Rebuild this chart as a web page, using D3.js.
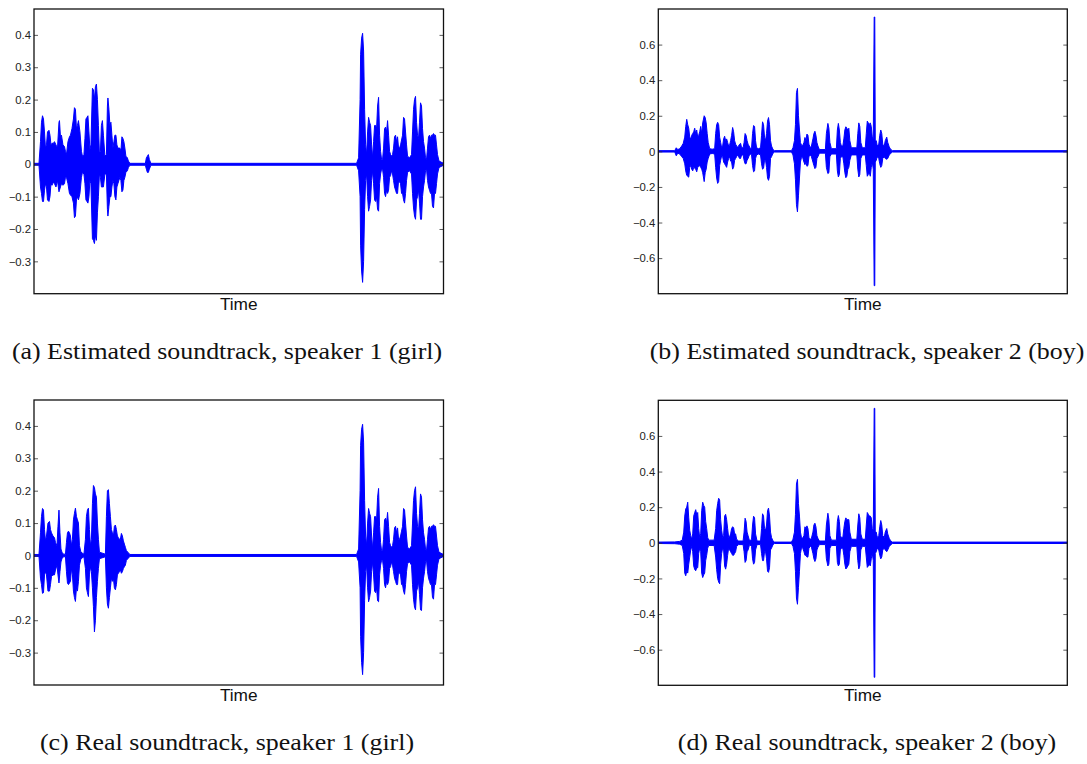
<!DOCTYPE html>
<html>
<head>
<meta charset="utf-8">
<script src="https://cdn.jsdelivr.net/npm/d3@7"></script>
<style>
  html, body { margin: 0; padding: 0; background: #fff; }
  svg { display: block; }
</style>
</head>
<body>
<svg id="fig" width="1087" height="764"></svg>
<script>
// Waveform envelopes: [time frame, upper amplitude, lower amplitude]
const girlEstimated = [
  [0,0.003,-0.003],[5,0.003,-0.003],[6.5,0.07,-0.07],[7.5,0.13,-0.09],[8.5,0.15,-0.115],[9.5,0.14,-0.115],[10.5,0.1,-0.08],[11.5,0.05,-0.06],[12.5,0.06,-0.07],[13.5,0.1,-0.11],[15,0.105,-0.115],[16,0.09,-0.1],[17,0.06,-0.06],[18,0.065,-0.065],[19.5,0.065,-0.055],[20.5,0.07,-0.06],[22,0.06,-0.07],[23.5,0.05,-0.05],[25,0.13,-0.085],[25.5,0.135,-0.08],[26.5,0.085,-0.07],[27.5,0.09,-0.06],[29,0.06,-0.065],[30.5,0.055,-0.06],[31.5,0.04,-0.04],[32.5,0.03,-0.04],[34,0.07,-0.06],[35.5,0.085,-0.09],[36.5,0.09,-0.095],[38,0.11,-0.1],[39.5,0.14,-0.12],[40.5,0.175,-0.165],[41.5,0.17,-0.16],[42.5,0.11,-0.11],[43.5,0.12,-0.1],[44.5,0.135,-0.11],[46,0.1,-0.09],[47.5,0.04,-0.04],[48.5,0.025,-0.025],[50,0.03,-0.03],[51,0.08,-0.06],[52,0.14,-0.11],[53,0.145,-0.115],[54,0.15,-0.12],[55,0.1,-0.1],[56,0.045,-0.05],[57,0.06,-0.06],[58.5,0.235,-0.23],[59.5,0.23,-0.235],[60.5,0.2,-0.245],[61.5,0.24,-0.22],[62.5,0.248,-0.235],[63.5,0.2,-0.15],[64.5,0.12,-0.1],[65.5,0.035,-0.03],[66.5,0.04,-0.04],[67.5,0.12,-0.07],[68.5,0.135,-0.07],[69.5,0.09,-0.07],[71,0.025,-0.03],[72.5,0.03,-0.03],[73.5,0.18,-0.14],[74,0.205,-0.16],[75,0.17,-0.13],[76,0.12,-0.1],[77,0.13,-0.1],[78,0.09,-0.07],[79,0.05,-0.05],[80,0.07,-0.06],[81,0.09,-0.1],[82,0.09,-0.11],[83,0.06,-0.07],[84,0.05,-0.06],[85,0.05,-0.05],[86,0.05,-0.04],[87,0.04,-0.05],[88,0.085,-0.085],[89,0.08,-0.08],[90,0.07,-0.05],[91,0.05,-0.04],[92,0.025,-0.025],[93.5,0.02,-0.02],[94.5,0.01,-0.01],[96,0.003,-0.003],
  [111.5,0.003,-0.003],[112.5,0.02,-0.015],[113.5,0.025,-0.025],[114.5,0.03,-0.025],[115.5,0.015,-0.015],[117,0.003,-0.003],
  [323,0.003,-0.003],[325,0.02,-0.02],[326.5,0.2,-0.1],[327,0.34,-0.25],[328,0.39,-0.33],[329,0.405,-0.365],[330,0.35,-0.3],[331,0.17,-0.14],[332,0.06,-0.05],[333,0.03,-0.03],[334,0.1,-0.1],[335,0.145,-0.145],[336,0.13,-0.13],[337,0.12,-0.11],[338,0.06,-0.05],[339,0.02,-0.02],[340,0.07,-0.06],[341,0.12,-0.11],[342,0.12,-0.115],[343,0.11,-0.1],[344,0.18,-0.14],[345,0.207,-0.145],[346,0.09,-0.06],[347,0.04,-0.03],[348,0.015,-0.015],[349,0.015,-0.015],[350,0.05,-0.04],[351,0.11,-0.09],[352,0.115,-0.1],[353,0.1,-0.08],[354,0.135,-0.09],[355,0.09,-0.08],[356,0.04,-0.04],[357,0.03,-0.035],[358,0.025,-0.02],[359,0.03,-0.03],[360,0.05,-0.05],[361,0.085,-0.07],[362,0.09,-0.08],[363,0.07,-0.09],[364,0.085,-0.09],[365,0.05,-0.05],[366,0.05,-0.055],[367,0.06,-0.06],[368,0.075,-0.09],[369,0.09,-0.09],[370,0.145,-0.11],[371,0.14,-0.12],[372,0.1,-0.09],[373,0.06,-0.05],[374,0.025,-0.025],[376,0.02,-0.02],[378,0.03,-0.03],[379,0.1,-0.09],[380,0.17,-0.135],[381,0.2,-0.16],[382,0.21,-0.17],[383,0.13,-0.11],[384,0.09,-0.1],[385,0.08,-0.08],[386,0.13,-0.12],[387,0.19,-0.17],[388,0.18,-0.17],[389,0.11,-0.1],[390,0.07,-0.07],[391,0.05,-0.05],[392,0.02,-0.02],[393,0.015,-0.015],[394,0.05,-0.05],[395,0.085,-0.07],[396,0.09,-0.08],[397,0.08,-0.09],[398,0.09,-0.09],[399,0.09,-0.13],[400,0.095,-0.135],[401,0.09,-0.09],[402,0.09,-0.09],[403,0.06,-0.06],[404,0.03,-0.03],[405.5,0.01,-0.01],[410,0.003,-0.003]
];

const boyEstimated = [
  [0,0.004,-0.004],[16.5,0.004,-0.004],[18,0.02,-0.025],[19.5,0.01,-0.01],[21.5,0.015,-0.015],[23.5,0.03,-0.03],[25,0.045,-0.04],[26.5,0.08,-0.07],[27.5,0.14,-0.11],[28.5,0.18,-0.135],[29.5,0.15,-0.14],[30.5,0.13,-0.145],[31.5,0.08,-0.09],[32.5,0.07,-0.08],[33.5,0.09,-0.1],[34.5,0.1,-0.11],[35.5,0.11,-0.09],[36.5,0.13,-0.095],[37.5,0.1,-0.1],[38.5,0.12,-0.115],[39.5,0.08,-0.09],[40.5,0.09,-0.085],[41.5,0.11,-0.08],[42.5,0.14,-0.09],[43.5,0.1,-0.1],[44.5,0.16,-0.12],[46,0.2,-0.17],[47,0.19,-0.12],[48,0.16,-0.1],[49,0.1,-0.06],[50,0.05,-0.04],[51.5,0.015,-0.015],[54,0.012,-0.012],[56.5,0.015,-0.015],[57.5,0.1,-0.09],[58.5,0.15,-0.15],[59.5,0.163,-0.18],[60.5,0.15,-0.17],[61.5,0.08,-0.08],[62.5,0.05,-0.05],[63.5,0.02,-0.025],[64.5,0.03,-0.03],[65.5,0.07,-0.06],[66.5,0.085,-0.07],[67.5,0.06,-0.08],[68.5,0.07,-0.09],[69.5,0.05,-0.06],[70.5,0.03,-0.04],[71.5,0.035,-0.03],[72.5,0.06,-0.055],[73.5,0.09,-0.06],[74.5,0.134,-0.1],[75.5,0.11,-0.09],[76.5,0.06,-0.05],[77.5,0.04,-0.04],[78.5,0.03,-0.03],[79.5,0.025,-0.02],[80.5,0.03,-0.03],[81.5,0.04,-0.04],[82.5,0.045,-0.04],[83.5,0.02,-0.02],[85,0.02,-0.02],[86,0.05,-0.05],[87,0.1,-0.07],[88,0.09,-0.07],[89,0.06,-0.05],[90,0.04,-0.04],[91,0.03,-0.025],[92.5,0.015,-0.015],[93.5,0.02,-0.02],[94.5,0.1,-0.08],[95.5,0.145,-0.115],[96.5,0.14,-0.11],[97.5,0.06,-0.04],[98.5,0.02,-0.02],[100.5,0.015,-0.015],[102.5,0.02,-0.02],[103.5,0.09,-0.07],[104.5,0.166,-0.1],[105.5,0.15,-0.095],[106.5,0.08,-0.05],[107.5,0.06,-0.05],[108.5,0.1,-0.09],[109.5,0.17,-0.15],[110.5,0.19,-0.163],[111.5,0.15,-0.14],[112.5,0.06,-0.04],[113.5,0.03,-0.03],[115,0.01,-0.01],[116.5,0.004,-0.004],
  [133.5,0.004,-0.004],[135,0.02,-0.02],[136.5,0.06,-0.07],[137.5,0.15,-0.16],[138.5,0.33,-0.3],[139.5,0.354,-0.34],[140.5,0.2,-0.25],[141.5,0.12,-0.15],[142.5,0.05,-0.06],[143.5,0.035,-0.035],[144.5,0.03,-0.03],[146,0.05,-0.06],[147,0.078,-0.075],[148,0.06,-0.06],[149,0.097,-0.084],[150,0.09,-0.08],[151,0.04,-0.03],[152.5,0.02,-0.02],[153.5,0.03,-0.03],[155,0.07,-0.06],[156,0.1,-0.08],[157,0.113,-0.097],[158,0.09,-0.09],[159,0.05,-0.04],[160,0.03,-0.03],[161.5,0.01,-0.01],[167.5,0.01,-0.01],[168.5,0.1,-0.09],[170,0.157,-0.125],[171,0.13,-0.12],[172,0.05,-0.03],[173.5,0.015,-0.015],[178.5,0.015,-0.015],[179.5,0.12,-0.11],[180.5,0.157,-0.144],[181.5,0.12,-0.13],[182.5,0.05,-0.04],[183.5,0.03,-0.03],[185,0.03,-0.03],[186,0.07,-0.07],[187,0.12,-0.12],[188,0.138,-0.148],[189,0.13,-0.14],[190,0.12,-0.1],[191,0.13,-0.09],[192,0.06,-0.05],[193.5,0.02,-0.02],[199,0.02,-0.02],[200,0.1,-0.1],[201,0.16,-0.144],[202,0.14,-0.13],[203,0.05,-0.04],[204.5,0.02,-0.02],[207.5,0.02,-0.02],[208.5,0.1,-0.08],[209.5,0.17,-0.14],[210.5,0.16,-0.13],[211.5,0.15,-0.12],[212.5,0.16,-0.14],[213.5,0.14,-0.09],[214.5,0.08,-0.06],[215.5,0.07,-0.1],[216.4,0.755,-0.755],[217,0.755,-0.755],[217.5,0.06,-0.06],[218.5,0.06,-0.05],[219.5,0.03,-0.03],[221,0.04,-0.04],[222,0.09,-0.07],[223,0.12,-0.09],[224,0.1,-0.08],[225,0.04,-0.04],[226.5,0.03,-0.03],[227.5,0.06,-0.04],[229,0.08,-0.045],[230,0.05,-0.04],[231.5,0.025,-0.02],[232.5,0.015,-0.015],[234.5,0.004,-0.004],[410,0.004,-0.004]
];

const girlReal = [
  [0,0.003,-0.003],[5,0.003,-0.003],[6.5,0.07,-0.07],[7.5,0.12,-0.09],[8.5,0.145,-0.117],[9.5,0.14,-0.115],[10.5,0.08,-0.06],[11.5,0.045,-0.05],[12.5,0.06,-0.06],[14,0.1,-0.11],[15.5,0.105,-0.11],[16.5,0.08,-0.09],[17.5,0.07,-0.065],[19,0.06,-0.06],[20.5,0.055,-0.06],[21.5,0.04,-0.045],[23,0.03,-0.03],[24,0.09,-0.06],[25,0.14,-0.085],[26,0.07,-0.05],[27,0.02,-0.02],[28,0.01,-0.01],[29.5,0.004,-0.004],[31.5,0.004,-0.004],[32.5,0.04,-0.05],[33.5,0.07,-0.085],[34.5,0.075,-0.09],[35.5,0.07,-0.085],[36.5,0.06,-0.08],[37.5,0.03,-0.04],[38.5,0.05,-0.06],[39.5,0.11,-0.11],[40.5,0.13,-0.13],[41.5,0.146,-0.142],[42.5,0.12,-0.1],[43.5,0.11,-0.11],[44.5,0.1,-0.08],[45.5,0.03,-0.03],[47,0.01,-0.01],[50,0.004,-0.004],[51.5,0.05,-0.04],[52.5,0.12,-0.1],[53.5,0.14,-0.115],[54.5,0.146,-0.127],[55.5,0.08,-0.06],[56.5,0.03,-0.035],[57.5,0.05,-0.05],[58.5,0.16,-0.1],[59.5,0.216,-0.158],[60.5,0.21,-0.236],[61.5,0.19,-0.2],[62.5,0.18,-0.13],[63.5,0.1,-0.08],[64.5,0.05,-0.04],[65.5,0.01,-0.01],[71.5,0.004,-0.004],[72.5,0.12,-0.1],[73.5,0.2,-0.15],[74.5,0.203,-0.163],[75.5,0.16,-0.13],[76.5,0.12,-0.1],[77.5,0.08,-0.07],[78.5,0.07,-0.08],[79.5,0.06,-0.07],[80.5,0.09,-0.1],[81.5,0.094,-0.106],[82.5,0.08,-0.09],[83.5,0.06,-0.06],[84.5,0.055,-0.055],[85.5,0.05,-0.05],[86.5,0.05,-0.045],[87.5,0.068,-0.055],[88.5,0.06,-0.05],[89.5,0.045,-0.04],[90.5,0.035,-0.035],[91.5,0.025,-0.03],[92.5,0.015,-0.015],[94,0.01,-0.01],[96,0.003,-0.003],
  [323,0.003,-0.003],[325,0.02,-0.02],[326.5,0.2,-0.1],[327,0.34,-0.25],[328,0.39,-0.33],[329,0.405,-0.368],[330,0.35,-0.3],[331,0.17,-0.14],[332,0.06,-0.05],[333,0.03,-0.03],[334,0.1,-0.1],[335,0.145,-0.143],[336,0.13,-0.13],[337,0.12,-0.11],[338,0.06,-0.05],[339,0.02,-0.02],[340,0.07,-0.06],[341,0.12,-0.11],[342,0.12,-0.115],[343,0.11,-0.1],[344,0.18,-0.14],[345,0.207,-0.143],[346,0.09,-0.06],[347,0.04,-0.03],[348,0.015,-0.015],[349,0.015,-0.015],[350,0.05,-0.04],[351,0.11,-0.09],[352,0.115,-0.1],[353,0.1,-0.08],[354,0.133,-0.09],[355,0.09,-0.08],[356,0.04,-0.04],[357,0.03,-0.035],[358,0.025,-0.02],[359,0.03,-0.03],[360,0.05,-0.05],[361,0.085,-0.07],[362,0.09,-0.08],[363,0.07,-0.09],[364,0.085,-0.09],[365,0.05,-0.05],[366,0.05,-0.055],[367,0.06,-0.06],[368,0.075,-0.09],[369,0.09,-0.09],[370,0.145,-0.11],[371,0.14,-0.12],[372,0.1,-0.09],[373,0.06,-0.05],[374,0.025,-0.025],[376,0.02,-0.02],[378,0.03,-0.03],[379,0.1,-0.09],[380,0.17,-0.135],[381,0.2,-0.16],[382,0.212,-0.168],[383,0.13,-0.11],[384,0.09,-0.1],[385,0.08,-0.08],[386,0.13,-0.12],[387,0.19,-0.168],[388,0.18,-0.17],[389,0.11,-0.1],[390,0.07,-0.07],[391,0.05,-0.05],[392,0.02,-0.02],[393,0.015,-0.015],[394,0.05,-0.05],[395,0.085,-0.07],[396,0.09,-0.08],[397,0.08,-0.09],[398,0.09,-0.09],[399,0.09,-0.13],[400,0.095,-0.135],[401,0.09,-0.09],[402,0.09,-0.09],[403,0.06,-0.06],[404,0.03,-0.03],[405.5,0.01,-0.01],[410,0.003,-0.003]
];

const boyReal = [
  [0,0.004,-0.004],[16.5,0.005,-0.005],[21.5,0.008,-0.008],[24,0.015,-0.015],[25.5,0.06,-0.06],[26.5,0.15,-0.17],[27.5,0.19,-0.185],[28.5,0.2,-0.16],[29.5,0.228,-0.17],[30.5,0.14,-0.12],[31.5,0.07,-0.08],[32.5,0.04,-0.04],[33.5,0.02,-0.02],[34.5,0.05,-0.05],[35.5,0.15,-0.13],[36.5,0.17,-0.15],[37.5,0.186,-0.157],[38.5,0.16,-0.14],[39.5,0.17,-0.14],[40.5,0.08,-0.06],[41.5,0.03,-0.03],[42.5,0.05,-0.05],[43.5,0.18,-0.17],[44.5,0.228,-0.195],[45.5,0.21,-0.18],[46.5,0.2,-0.17],[47.5,0.12,-0.1],[48.5,0.08,-0.07],[49.5,0.03,-0.03],[50.5,0.015,-0.015],[56,0.015,-0.015],[57.5,0.08,-0.08],[58.5,0.18,-0.15],[59.5,0.22,-0.2],[60.5,0.25,-0.22],[61.5,0.24,-0.23],[62.5,0.13,-0.12],[63.5,0.07,-0.06],[64.5,0.03,-0.03],[65.5,0.04,-0.04],[66.5,0.15,-0.13],[67.5,0.16,-0.148],[68.5,0.13,-0.12],[69.5,0.08,-0.07],[70.5,0.03,-0.03],[71.5,0.035,-0.04],[72.5,0.05,-0.05],[73.5,0.08,-0.06],[74.5,0.09,-0.07],[75.5,0.085,-0.07],[76.5,0.05,-0.06],[77.5,0.05,-0.05],[78.5,0.02,-0.02],[80.5,0.01,-0.01],[85,0.01,-0.01],[86,0.06,-0.05],[87,0.138,-0.11],[88,0.12,-0.1],[89,0.06,-0.05],[90,0.04,-0.04],[91.5,0.01,-0.01],[93.5,0.02,-0.02],[94.5,0.1,-0.09],[95.5,0.149,-0.12],[96.5,0.14,-0.11],[97.5,0.05,-0.04],[99,0.01,-0.01],[102.5,0.01,-0.01],[103.5,0.08,-0.06],[104.5,0.163,-0.1],[105.5,0.15,-0.1],[106.5,0.08,-0.05],[107.5,0.07,-0.05],[108.5,0.1,-0.09],[109.5,0.18,-0.16],[110.5,0.195,-0.166],[111.5,0.15,-0.14],[112.5,0.06,-0.04],[113.5,0.03,-0.03],[115,0.01,-0.01],[116.5,0.004,-0.004],
  [133.5,0.004,-0.004],[135,0.02,-0.02],[136.5,0.06,-0.06],[137.5,0.16,-0.16],[138.5,0.33,-0.31],[139.5,0.356,-0.345],[140.5,0.22,-0.25],[141.5,0.15,-0.16],[142.5,0.06,-0.06],[143.5,0.03,-0.03],[144.5,0.025,-0.025],[146,0.04,-0.05],[147,0.09,-0.07],[148,0.08,-0.07],[149,0.095,-0.08],[150,0.08,-0.08],[151,0.03,-0.03],[152.5,0.02,-0.02],[153.5,0.025,-0.025],[155,0.06,-0.06],[156,0.1,-0.09],[157,0.11,-0.105],[158,0.09,-0.09],[159,0.04,-0.04],[160,0.025,-0.025],[161.5,0.01,-0.01],[167.5,0.01,-0.01],[168.5,0.1,-0.09],[170,0.166,-0.13],[171,0.13,-0.12],[172,0.04,-0.03],[173.5,0.015,-0.015],[178.5,0.015,-0.015],[179.5,0.12,-0.11],[180.5,0.153,-0.13],[181.5,0.12,-0.12],[182.5,0.04,-0.04],[183.5,0.03,-0.03],[185,0.03,-0.03],[186,0.08,-0.07],[187,0.12,-0.12],[188,0.14,-0.147],[189,0.13,-0.14],[190,0.13,-0.13],[191,0.13,-0.12],[192,0.06,-0.05],[193.5,0.02,-0.02],[199,0.02,-0.02],[200,0.1,-0.1],[201,0.163,-0.147],[202,0.14,-0.13],[203,0.05,-0.04],[204.5,0.02,-0.02],[207.5,0.02,-0.02],[208.5,0.1,-0.08],[209.5,0.17,-0.138],[210.5,0.16,-0.13],[211.5,0.15,-0.12],[212.5,0.15,-0.13],[213.5,0.14,-0.09],[214.5,0.08,-0.06],[215.5,0.07,-0.1],[216.4,0.755,-0.755],[217,0.755,-0.755],[217.5,0.06,-0.06],[218.5,0.06,-0.05],[219.5,0.03,-0.03],[221,0.04,-0.04],[222,0.09,-0.07],[223,0.125,-0.09],[224,0.1,-0.08],[225,0.04,-0.04],[226.5,0.03,-0.03],[227.5,0.06,-0.04],[229,0.08,-0.05],[230,0.05,-0.04],[231.5,0.025,-0.02],[232.5,0.015,-0.015],[234.5,0.004,-0.004],[410,0.004,-0.004]
];

// Axis extents and tick labels
const timeExtent = [0, 410];
const girlAmplitudeRange = [-0.4, 0.48];
const boyAmplitudeRange = [-0.8, 0.8];
const girlTicks = [-0.3, -0.2, -0.1, 0, 0.1, 0.2, 0.3, 0.4];
const boyTicks = [-0.6, -0.4, -0.2, 0, 0.2, 0.4, 0.6];
const xLabel = "Time";
const captions = [
  "(a) Estimated soundtrack, speaker 1 (girl)",
  "(b) Estimated soundtrack, speaker 2 (boy)",
  "(c) Real soundtrack, speaker 1 (girl)",
  "(d) Real soundtrack, speaker 2 (boy)"
];

// Panel layout (pixels)
const panels = [
  { data: girlEstimated, yDomain: girlAmplitudeRange, ticks: girlTicks, box: [34, 9, 443.5, 293.7], caption: captions[0], capX: 227, capY: 359 },
  { data: boyEstimated,  yDomain: boyAmplitudeRange,  ticks: boyTicks,  box: [658.3, 9, 1067.3, 293.7], caption: captions[1], capX: 867, capY: 359 },
  { data: girlReal,      yDomain: girlAmplitudeRange, ticks: girlTicks, box: [34, 400, 443.5, 685], caption: captions[2], capX: 227, capY: 750 },
  { data: boyReal,       yDomain: boyAmplitudeRange,  ticks: boyTicks,  box: [658.3, 400.3, 1067.3, 685.3], caption: captions[3], capX: 867, capY: 750 }
];

const SX = 1.08; // lettering is set slightly wide
const svg = d3.select("#fig");
svg.append("rect").attr("width", 1087).attr("height", 764).attr("fill", "#fff");

const fmt = d => d === 0 ? "0" : d3.format(".1f")(d);

panels.forEach((p, i) => {
  const [x0, y0, x1, y1] = p.box;
  const x = d3.scaleLinear().domain(timeExtent).range([x0, x1]);
  const y = d3.scaleLinear().domain(p.yDomain).range([y1, y0]);
  const g = svg.append("g");

  const clipId = "clip" + i;
  g.append("clipPath").attr("id", clipId)
    .append("rect").attr("x", x0).attr("y", y0).attr("width", x1 - x0).attr("height", y1 - y0);

  const area = d3.area()
    .x(d => x(d[0]))
    .y0(d => y(d[2]))
    .y1(d => y(d[1]));

  g.append("path")
    .datum(p.data)
    .attr("clip-path", `url(#${clipId})`)
    .attr("d", area)
    .attr("fill", "#0000ff")
    .attr("stroke", "#0000ff")
    .attr("stroke-width", 1)
    .attr("stroke-linejoin", "round");

  // left axis with labels, ticks pointing inward
  const left = g.append("g").attr("transform", `translate(${x0},0)`)
    .call(d3.axisLeft(y).tickValues(p.ticks).tickSize(-4).tickPadding(0).tickFormat(fmt));
  left.select(".domain").remove();
  left.selectAll(".tick line").attr("stroke", "#333").attr("stroke-width", 0.8);
  left.selectAll(".tick text")
    .attr("x", 0).attr("dy", "0.35em")
    .attr("transform", `translate(-3,0) scale(${SX},1)`)
    .attr("fill", "#222")
    .style("font-family", "'Liberation Sans', Arial, Helvetica, sans-serif")
    .style("font-size", "10.5px");

  // mirrored ticks on the right edge
  const right = g.append("g").attr("transform", `translate(${x1},0)`)
    .call(d3.axisRight(y).tickValues(p.ticks).tickSize(-4).tickFormat(""));
  right.select(".domain").remove();
  right.selectAll(".tick line").attr("stroke", "#333").attr("stroke-width", 0.8);

  // frame
  g.append("rect")
    .attr("x", x0).attr("y", y0).attr("width", x1 - x0).attr("height", y1 - y0)
    .attr("fill", "none").attr("stroke", "#111").attr("stroke-width", 1.3);

  // x label
  g.append("text")
    .attr("transform", `translate(${(x0 + x1) / 2},${y1 + 16}) scale(${SX},1)`)
    .attr("text-anchor", "middle")
    .style("font-family", "'Liberation Sans', Arial, Helvetica, sans-serif")
    .style("font-size", "16px")
    .attr("fill", "#111")
    .text(xLabel);

  // subfigure caption
  svg.append("text")
    .attr("transform", `translate(${p.capX},${p.capY}) scale(${SX},1)`)
    .attr("text-anchor", "middle")
    .style("font-family", "'Liberation Serif', 'Times New Roman', serif")
    .style("font-size", "24px")
    .attr("fill", "#111")
    .text(p.caption);
});
</script>
</body>
</html>
